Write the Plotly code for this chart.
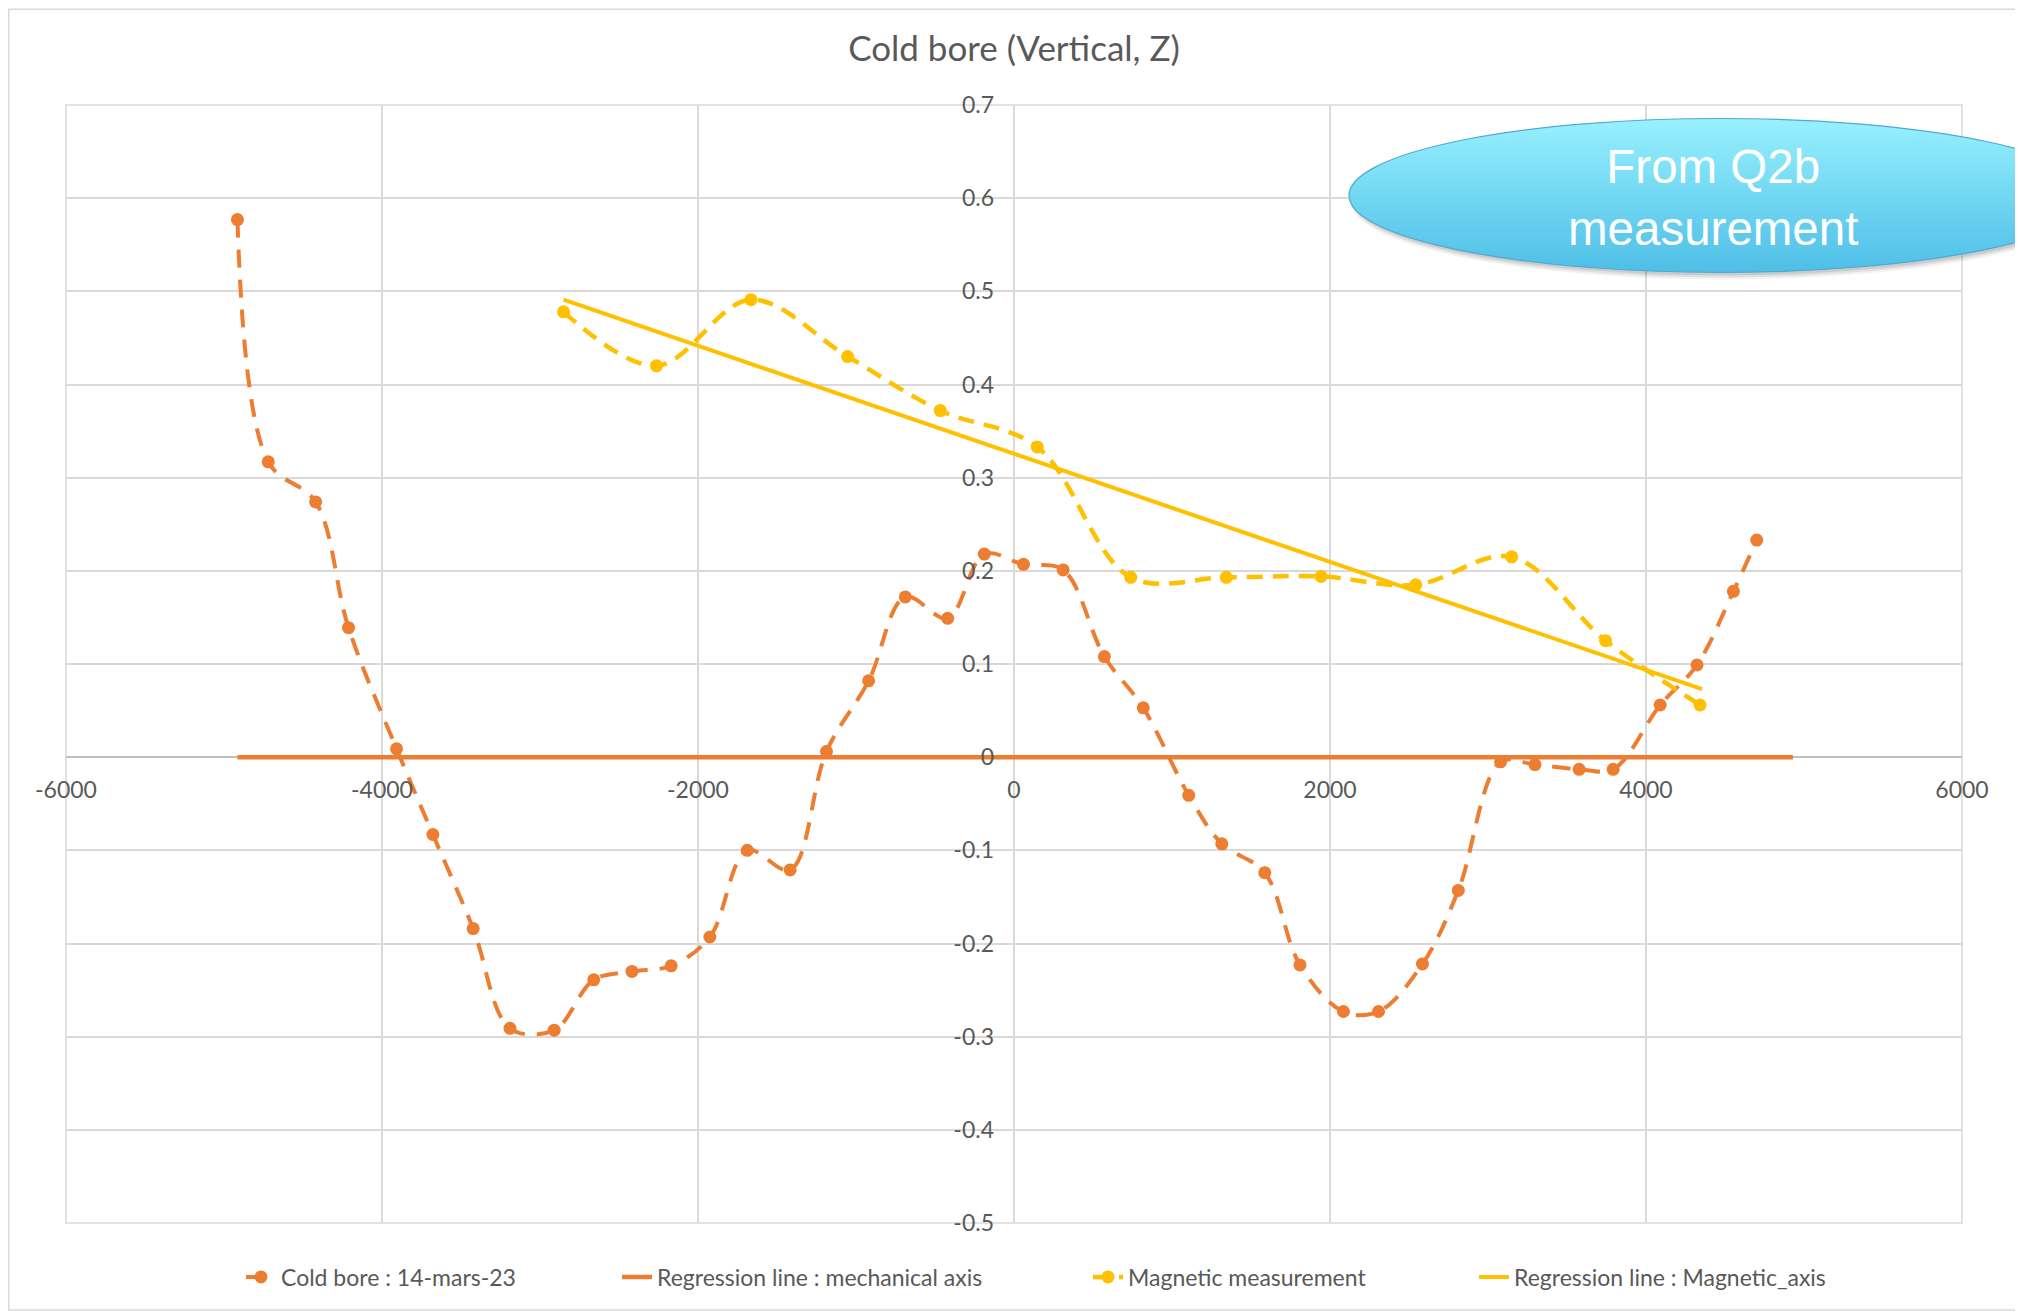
import math
import plotly.graph_objects as go

# ---------------- data ----------------
cold_x = [-4915, -4720, -4420, -4212, -3908, -3678, -3423, -3190, -2910, -2660, -2418, -2170,
          -1925, -1688, -1417, -1187, -920, -688, -420, -188, 60, 311, 572, 818, 1106, 1315,
          1587, 1810, 2085, 2307, 2585, 2812, 3080, 3297, 3577, 3792, 4090, 4323, 4553, 4701]
cold_y = [0.577, 0.317, 0.274, 0.139, 0.009, -0.083, -0.184, -0.291, -0.293, -0.239, -0.230, -0.224,
          -0.193, -0.100, -0.121, 0.006, 0.082, 0.172, 0.149, 0.218, 0.207, 0.201, 0.108, 0.053,
          -0.041, -0.093, -0.124, -0.223, -0.273, -0.273, -0.222, -0.143, -0.005, -0.008, -0.013,
          -0.013, 0.056, 0.099, 0.178, 0.233]

mech_reg_x = [-4915, 4930]
mech_reg_y = [0.0, 0.0]

mag_x = [-2851, -2263, -1665, -1053, -466, 147, 739, 1344, 1943, 2543, 3150, 3744, 4342]
mag_y = [0.478, 0.420, 0.491, 0.430, 0.372, 0.333, 0.193, 0.193, 0.194, 0.185, 0.215, 0.125, 0.056]

mag_reg_x = [-2851, 4355]
mag_reg_y = [0.491, 0.073]

x_ticks = [-6000, -4000, -2000, 0, 2000, 4000, 6000]
x_tick_labels = ["-6000", "-4000", "-2000", "0", "2000", "4000", "6000"]
y_ticks = [-0.5, -0.4, -0.3, -0.2, -0.1, 0.0, 0.1, 0.2, 0.3, 0.4, 0.5, 0.6, 0.7]
y_tick_labels = ["-0.5", "-0.4", "-0.3", "-0.2", "-0.1", "0", "0.1", "0.2", "0.3", "0.4", "0.5", "0.6", "0.7"]

title_text = "Cold bore (Vertical, Z)"
names = ["Cold bore : 14-mars-23", "Regression line : mechanical axis",
         "Magnetic measurement", "Regression line : Magnetic_axis"]
callout_text = "From Q2b<br>measurement"

# ---------------- geometry helpers (page pixels -> figure paper) ----------------
W, H = 2023, 1311
OFF = 8  # body margin of the html page
L, R, T, B = 66 - OFF, 1962 - OFF, 104.5 - OFF, 1223 - OFF
PW, PH = R - L, B - T


def px(xp):
    return (xp - OFF - L) / PW


def py(yp):
    return (B - (yp - OFF)) / PH


ORANGE = "#ED7D31"
GOLD = "#FFC000"
GREY = "#595959"
FONT = "Lato"

fig = go.Figure()

fig.add_trace(go.Scatter(
    x=cold_x, y=cold_y, name=names[0], mode="lines+markers",
    line=dict(color=ORANGE, width=4, dash="18px,12px", shape="spline", smoothing=1),
    marker=dict(color=ORANGE, size=13, symbol="circle"),
    legend="legend", showlegend=True))

fig.add_trace(go.Scatter(
    x=mech_reg_x, y=mech_reg_y, name=names[1], mode="lines",
    line=dict(color=ORANGE, width=4.5), legend="legend2", showlegend=True))

fig.add_trace(go.Scatter(
    x=mag_x, y=mag_y, name=names[2], mode="lines+markers",
    line=dict(color=GOLD, width=4.5, dash="16px,10px", shape="spline", smoothing=1),
    marker=dict(color=GOLD, size=13, symbol="circle"),
    legend="legend3", showlegend=True))

fig.add_trace(go.Scatter(
    x=mag_reg_x, y=mag_reg_y, name=names[3], mode="lines",
    line=dict(color=GOLD, width=4), legend="legend4", showlegend=True))

# ---------------- shapes ----------------
shapes = []
# outer chart border
shapes.append(dict(type="rect", xref="paper", yref="paper",
                   x0=px(OFF + 0.8), x1=px(2018), y0=py(1310), y1=py(OFF + 0.8),
                   line=dict(color="#d9d9d9", width=1.5), fillcolor="rgba(0,0,0,0)", layer="below"))
# plot area border
shapes.append(dict(type="rect", xref="paper", yref="paper", x0=0, x1=1, y0=0, y1=1,
                   line=dict(color="#d9d9d9", width=1.5), fillcolor="rgba(0,0,0,0)", layer="below"))

# callout ellipse (vertical gradient approximated by slices), page pixel geometry
cx, cy, ea, eb = 1721, 195, 372, 77
for dy, a in [(7, 0.05), (5, 0.07), (3, 0.09)]:
    shapes.append(dict(type="circle", xref="paper", yref="paper",
                       x0=px(cx - ea + 2), x1=px(cx + ea + 2), y0=py(cy + eb + dy), y1=py(cy - eb + dy),
                       line=dict(width=0), fillcolor=f"rgba(0,0,0,{a})", layer="above"))

N = 44
top_c = (152, 241, 254)
bot_c = (78, 190, 231)
for i in range(N):
    y0 = cy - eb + 2 * eb * i / N
    y1 = min(cy - eb + 2 * eb * (i + 1) / N + 0.8, cy + eb)
    pts_l, pts_r = [], []
    steps = 4
    for s in range(steps + 1):
        yy = y0 + (y1 - y0) * s / steps
        t = max(0.0, 1 - ((yy - cy) / eb) ** 2)
        hw = ea * math.sqrt(t)
        pts_l.append((cx - hw, yy))
        pts_r.append((cx + hw, yy))
    poly = pts_l + pts_r[::-1]
    path = "M " + " L ".join(f"{px(a_):.5f},{py(b_):.5f}" for a_, b_ in poly) + " Z"
    f = (i + 0.5) / N
    col = tuple(int(round(top_c[j] + (bot_c[j] - top_c[j]) * f)) for j in range(3))
    shapes.append(dict(type="path", xref="paper", yref="paper", path=path,
                       line=dict(width=0), fillcolor=f"rgb{col}", layer="above"))
shapes.append(dict(type="circle", xref="paper", yref="paper",
                   x0=px(cx - ea), x1=px(cx + ea), y0=py(cy + eb), y1=py(cy - eb),
                   line=dict(color="#4FA9D2", width=1.2), fillcolor="rgba(0,0,0,0)", layer="above"))

annotations = [dict(text=callout_text, xref="paper", yref="paper", x=px(1713), y=py(197),
                    xanchor="center", yanchor="middle", showarrow=False,
                    font=dict(family="Liberation Sans", size=47.5, color="white"))]

# ---------------- layout ----------------
leg_common = dict(orientation="h", yanchor="middle", y=py(1277), xanchor="left",
                  bgcolor="rgba(0,0,0,0)", font=dict(family=FONT, size=23, color=GREY))
fig.update_layout(
    width=W, height=H, showlegend=True,
    margin=dict(l=L, r=W - R, t=T, b=H - B, autoexpand=False),
    paper_bgcolor="white", plot_bgcolor="white",
    title=dict(text=title_text, x=0.5, xanchor="center", y=1 - (49 - OFF) / H, yanchor="middle",
               xref="paper", font=dict(family=FONT, size=35, color=GREY)),
    xaxis=dict(range=[-6000, 6000], tickvals=x_ticks, ticktext=x_tick_labels,
               anchor="free", position=0.5 / 1.2, showgrid=True, gridcolor="#d9d9d9", gridwidth=1.5,
               zeroline=True, zerolinecolor="#d9d9d9", zerolinewidth=1.5, showline=False,
               ticks="", ticklabelstandoff=17,
               tickfont=dict(family=FONT, size=23, color=GREY)),
    yaxis=dict(range=[-0.5, 0.7], tickvals=y_ticks, ticktext=y_tick_labels,
               anchor="free", position=0.5, showgrid=True, gridcolor="#d9d9d9", gridwidth=1.5,
               zeroline=True, zerolinecolor="#bfbfbf", zerolinewidth=2.2, showline=False,
               ticks="", ticklabelstandoff=20,
               tickfont=dict(family=FONT, size=23, color=GREY)),
    legend=dict(leg_common, x=px(241)),
    legend2=dict(leg_common, x=px(617)),
    legend3=dict(leg_common, x=px(1088)),
    legend4=dict(leg_common, x=px(1474)),
    shapes=shapes,
    annotations=annotations,
)

fig.write_html("out.html")
